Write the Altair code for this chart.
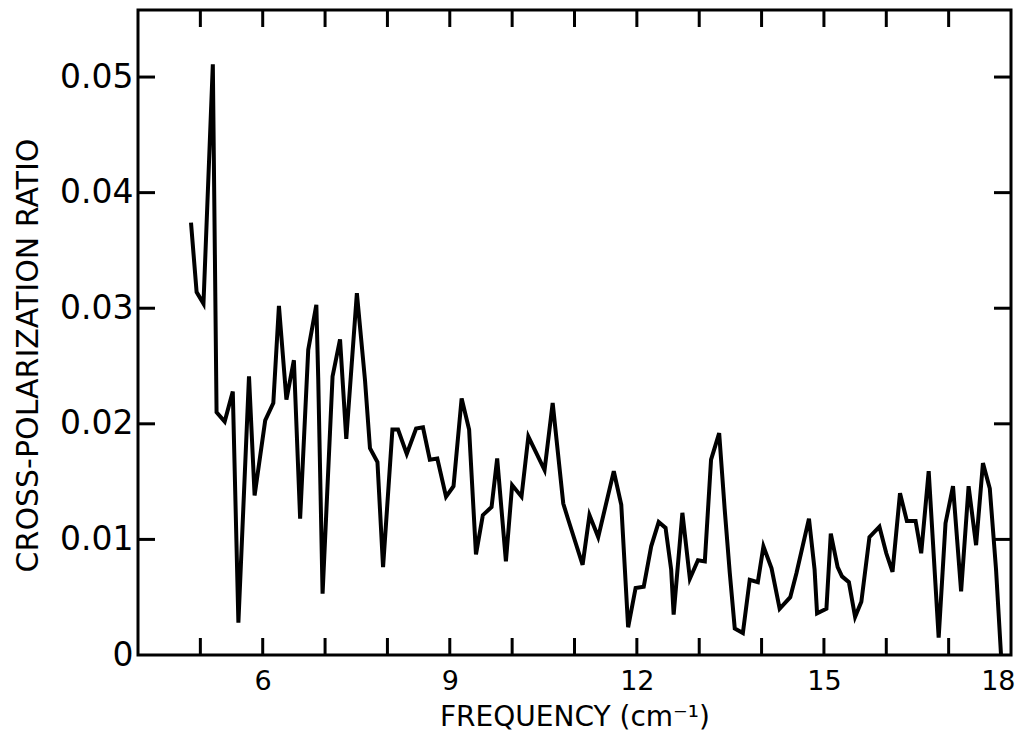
import altair as alt
import pandas as pd

freq = [4.85, 4.94, 5.05, 5.20, 5.26, 5.39, 5.52, 5.61, 5.78, 5.87, 6.04, 6.17,
        6.26, 6.38, 6.50, 6.60, 6.73, 6.86, 6.89, 6.96, 7.12, 7.24, 7.34, 7.51,
        7.64, 7.72, 7.84, 7.93, 8.08, 8.17, 8.31, 8.46, 8.57, 8.68, 8.80, 8.94,
        9.06, 9.19, 9.31, 9.42, 9.53, 9.67, 9.76, 9.90, 10.00, 10.15, 10.26,
        10.52, 10.65, 10.82, 10.90, 11.13, 11.24, 11.38, 11.63, 11.75, 11.86,
        11.98, 12.11, 12.23, 12.35, 12.46, 12.55, 12.59, 12.73, 12.85, 12.98,
        13.09, 13.19, 13.32, 13.41, 13.49, 13.57, 13.70, 13.81, 13.94, 14.03,
        14.16, 14.29, 14.46, 14.56, 14.76, 14.85, 14.89, 15.04, 15.11, 15.22,
        15.29, 15.40, 15.50, 15.60, 15.73, 15.89, 16.00, 16.10, 16.22, 16.33,
        16.47, 16.56, 16.68, 16.84, 16.95, 17.07, 17.20, 17.32, 17.44, 17.55,
        17.66, 17.76, 17.84]
ratio = [0.0374, 0.0314, 0.0304, 0.0511, 0.0210, 0.0202, 0.0228, 0.0028, 0.0241,
         0.0138, 0.0203, 0.0218, 0.0302, 0.0221, 0.0255, 0.0118, 0.0264, 0.0303,
         0.0240, 0.0053, 0.0241, 0.0273, 0.0187, 0.0313, 0.0238, 0.0179, 0.0167,
         0.0076, 0.0195, 0.0195, 0.0174, 0.0196, 0.0197, 0.0169, 0.0170, 0.0137,
         0.0146, 0.0222, 0.0195, 0.0087, 0.0121, 0.0128, 0.0170, 0.0081, 0.0147,
         0.0137, 0.0189, 0.0160, 0.0218, 0.0131, 0.0117, 0.0078, 0.0121, 0.0102,
         0.0159, 0.0130, 0.0024, 0.0058, 0.0059, 0.0094, 0.0115, 0.0110, 0.0074,
         0.0035, 0.0123, 0.0066, 0.0082, 0.0081, 0.0169, 0.0192, 0.0125, 0.0071,
         0.0023, 0.0019, 0.0065, 0.0063, 0.0094, 0.0075, 0.0040, 0.0050, 0.0071,
         0.0118, 0.0074, 0.0036, 0.0040, 0.0105, 0.0076, 0.0068, 0.0063, 0.0033,
         0.0046, 0.0102, 0.0111, 0.0088, 0.0072, 0.0140, 0.0116, 0.0116, 0.0088,
         0.0159, 0.0015, 0.0114, 0.0146, 0.0055, 0.0146, 0.0095, 0.0166, 0.0144,
         0.0074, 0.0000]

x_tick_values = [5, 6, 7, 8, 9, 10, 11, 12, 13, 14, 15, 16, 17]
x_label_values = [6, 9, 12, 15, 18]
y_tick_values = [0.01, 0.02, 0.03, 0.04, 0.05]
y_label_values = [0, 0.01, 0.02, 0.03, 0.04, 0.05]

W, H = 873, 645
TL = 17
FONT = "DejaVu Sans"

df = pd.DataFrame({"freq": freq, "ratio": ratio})
xt = pd.DataFrame({"freq": x_tick_values})
yt = pd.DataFrame({"ratio": y_tick_values})

xscale = alt.Scale(domain=[4, 18], nice=False, zero=False)
yscale = alt.Scale(domain=[0, 0.0558], nice=False)

xaxis = alt.Axis(values=x_label_values, ticks=False, domain=False, grid=False,
                 labelFont=FONT, labelFontSize=27, labelColor="black",
                 labelPadding=13, labelFlush=True, labelFlushOffset=4,
                 title="FREQUENCY (cm⁻¹)", titleFont=FONT,
                 titleFontSize=28, titleFontWeight="normal", titleColor="black",
                 titlePadding=9)
yaxis = alt.Axis(values=y_label_values, ticks=False, domain=False, grid=False,
                 labelFont=FONT, labelFontSize=33, labelColor="black",
                 labelPadding=5, labelFlush=False,
                 labelExpr="datum.value == 0 ? '0' : format(datum.value, '.2f')",
                 title="CROSS-POLARIZATION RATIO", titleFont=FONT,
                 titleFontSize=30, titleFontWeight="normal", titleColor="black",
                 titlePadding=16, titleY=345)

X = alt.X("freq:Q", scale=xscale, axis=xaxis)
Y = alt.Y("ratio:Q", scale=yscale, axis=yaxis)

line = alt.Chart(df).mark_line(color="black", strokeWidth=4,
                               strokeJoin="miter").encode(x=X, y=Y)

bottom_ticks = alt.Chart(xt).mark_rule(color="black", strokeWidth=3).encode(
    x=X, y=alt.value(H), y2=alt.value(H - TL))
top_ticks = alt.Chart(xt).mark_rule(color="black", strokeWidth=3).encode(
    x=X, y=alt.value(0), y2=alt.value(TL))
left_ticks = alt.Chart(yt).mark_rule(color="black", strokeWidth=3).encode(
    y=Y, x=alt.value(0), x2=alt.value(TL))
right_ticks = alt.Chart(yt).mark_rule(color="black", strokeWidth=3).encode(
    y=Y, x=alt.value(W), x2=alt.value(W - TL))

chart = alt.layer(line, bottom_ticks, top_ticks, left_ticks, right_ticks).properties(
    width=W, height=H,
    background="white",
    autosize=alt.AutoSizeParams(type="none"),
    padding={"left": 130, "top": 2, "right": 9, "bottom": 82},
).configure_view(stroke="black", strokeWidth=3)

chart.save("out.html", embed_options={"renderer": "svg", "actions": False})
